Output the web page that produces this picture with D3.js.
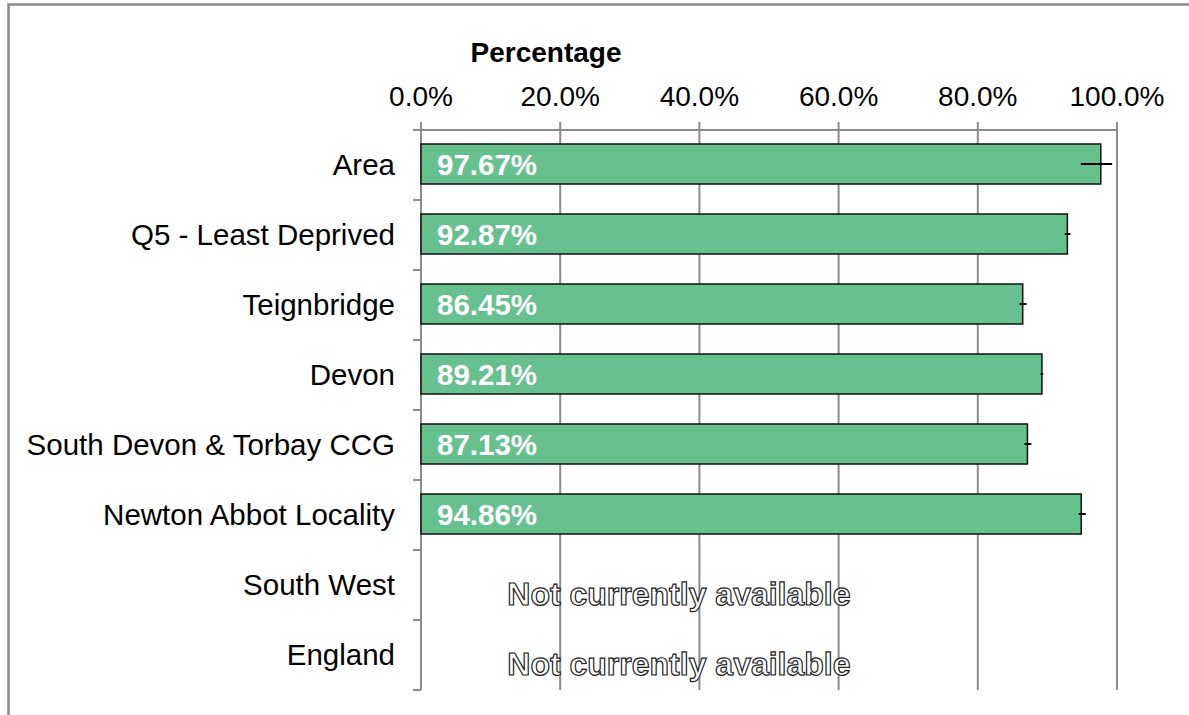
<!DOCTYPE html>
<html>
<head>
<meta charset="utf-8">
<script src="https://cdn.jsdelivr.net/npm/d3@7"></script>
<style>
  body { margin: 0; background: #fff; }
  svg { display: block; font-family: "Liberation Sans", Arial, sans-serif; }
</style>
</head>
<body>
<div id="chart"></div>
<script>
// data
var areas = ["Area", "Q5 - Least Deprived", "Teignbridge", "Devon",
             "South Devon & Torbay CCG", "Newton Abbot Locality", "South West", "England"];
var values = [97.67, 92.87, 86.45, 89.21, 87.13, 94.86, null, null];
var lowerCI = [94.8, 92.5, 86.0, 89.0, 86.7, 94.5, null, null];
var upperCI = [99.3, 93.3, 87.0, 89.4, 87.7, 95.5, null, null];
var ticks = [0, 20, 40, 60, 80, 100];

var width = 1189, height = 715;
var margin = {top: 130, left: 421, right: 72, bottom: 25};

var svg = d3.select("#chart").append("svg")
  .attr("width", width)
  .attr("height", height);

// outer frame (only top and left show in the window)
svg.append("path")
  .attr("d", "M8.5," + height + "V4.5H" + width)
  .attr("fill", "none")
  .attr("stroke", "#8a8a8a")
  .attr("stroke-width", 2.5);

var x = d3.scaleLinear().domain([0, 100]).range([margin.left, width - margin.right]);
var y = d3.scaleBand().domain(areas).range([margin.top, height - margin.bottom]).paddingInner(0).paddingOuter(0);
var barH = 40;

var grid = "#8c8c8c";

// vertical gridlines
svg.append("g").selectAll("line")
  .data(ticks)
  .enter().append("line")
  .attr("x1", function(d) { return x(d); })
  .attr("x2", function(d) { return x(d); })
  .attr("y1", margin.top - 8)
  .attr("y2", height - margin.bottom)
  .attr("stroke", grid)
  .attr("stroke-width", 2);

// top axis line
svg.append("line")
  .attr("x1", x(0) - 8).attr("x2", x(100))
  .attr("y1", margin.top).attr("y2", margin.top)
  .attr("stroke", grid).attr("stroke-width", 2);

// category ticks on the left
var bounds = areas.map(function(d) { return y(d); }).concat([y(areas[areas.length - 1]) + y.bandwidth()]);
svg.append("g").selectAll("line")
  .data(bounds)
  .enter().append("line")
  .attr("x1", x(0) - 8).attr("x2", x(0))
  .attr("y1", function(d) { return d; })
  .attr("y2", function(d) { return d; })
  .attr("stroke", grid).attr("stroke-width", 2);

// tick labels
svg.append("g").selectAll("text")
  .data(ticks)
  .enter().append("text")
  .attr("x", function(d) { return x(d); })
  .attr("y", 106)
  .attr("text-anchor", "middle")
  .attr("font-size", "28px")
  .attr("fill", "#000")
  .text(function(d) { return d.toFixed(1) + "%"; });

svg.append("text")
  .attr("x", x(0) + 125)
  .attr("y", 62)
  .attr("text-anchor", "middle")
  .attr("font-size", "28px")
  .attr("font-weight", "bold")
  .text("Percentage");

// category labels
svg.append("g").selectAll("text")
  .data(areas)
  .enter().append("text")
  .attr("x", x(0) - 26)
  .attr("y", function(d) { return y(d) + y.bandwidth() / 2; })
  .attr("dy", "0.35em")
  .attr("text-anchor", "end")
  .attr("font-size", "29.5px")
  .text(function(d) { return d; });

var rows = areas.map(function(d, i) {
  return {name: d, value: values[i], lo: lowerCI[i], hi: upperCI[i]};
});

var withData = rows.filter(function(d) { return d.value != null; });

// bars
svg.append("g").selectAll("rect")
  .data(withData)
  .enter().append("rect")
  .attr("x", x(0))
  .attr("y", function(d) { return y(d.name) + (y.bandwidth() - barH) / 2 - 1; })
  .attr("width", function(d) { return x(d.value) - x(0); })
  .attr("height", barH)
  .attr("fill", "#67c18e")
  .attr("stroke", "#111")
  .attr("stroke-width", 1.5);

// error bars
svg.append("g").selectAll("line")
  .data(withData)
  .enter().append("line")
  .attr("x1", function(d) { return x(d.lo); })
  .attr("x2", function(d) { return x(d.hi); })
  .attr("y1", function(d) { return y(d.name) + y.bandwidth() / 2 - 1; })
  .attr("y2", function(d) { return y(d.name) + y.bandwidth() / 2 - 1; })
  .attr("stroke", "#000")
  .attr("stroke-width", 2);

// value labels
svg.append("g").selectAll("text")
  .data(withData)
  .enter().append("text")
  .attr("x", x(0) + 16)
  .attr("y", function(d) { return y(d.name) + y.bandwidth() / 2; })
  .attr("dy", "0.35em")
  .attr("font-size", "29.5px")
  .attr("font-weight", "bold")
  .attr("fill", "#fff")
  .text(function(d) { return d.value.toFixed(2) + "%"; });

// missing data
svg.append("g").selectAll("text")
  .data(rows.filter(function(d) { return d.value == null; }))
  .enter().append("text")
  .attr("x", x(12.4))
  .attr("y", function(d) { return y(d.name) + y.bandwidth() / 2 + 20; })
  .attr("font-size", "32px")
  .attr("font-weight", "bold")
  .attr("fill", "#fff")
  .attr("stroke", "#222")
  .attr("stroke-width", 1.2)
  .style("text-rendering", "geometricPrecision")
  .text("Not currently available");
</script>
</body>
</html>
